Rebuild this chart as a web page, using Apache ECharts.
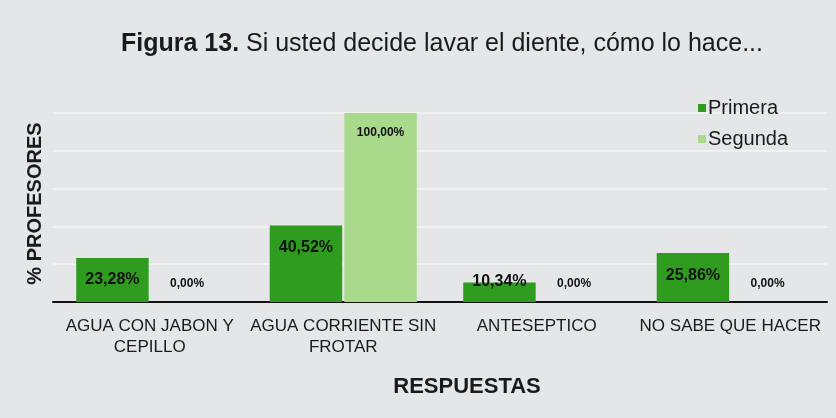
<!DOCTYPE html>
<html>
<head>
<meta charset="utf-8">
<script src="https://cdn.jsdelivr.net/npm/echarts@6/dist/echarts.min.js"></script>
<style>html,body{margin:0;padding:0;background:#e5e6e8;}#c{width:836px;height:418px;}</style>
</head>
<body>
<div id="c"></div>
<script>
var categories = ['AGUA CON JABON Y\nCEPILLO', 'AGUA CORRIENTE SIN\nFROTAR', 'ANTESEPTICO', 'NO SABE QUE HACER'];
var primera = [23.28, 40.52, 10.34, 25.86];
var segunda = [0.00, 100.00, 0.00, 0.00];
var seriesNames = ['Primera', 'Segunda'];
var yTicks = [0, 20, 40, 60, 80, 100];

function fmt(v) { return v.toFixed(2).replace('.', ',') + '%'; }

function buildData(arr) {
  return arr.map(function (v) {
    var lab;
    if (v === 0) lab = { position: 'top', distance: 12 };
    else if (v < 15) lab = { position: 'top', distance: -7 };
    else lab = { position: 'insideTop', distance: 14 };
    return { value: v, label: lab };
  });
}

var chart = echarts.init(document.getElementById('c'));
chart.setOption({
  backgroundColor: '#e5e6e8',
  animation: false,
  title: {
    text: '{b|Figura 13.} Si usted decide lavar el diente, cómo lo hace...',
    left: 437, top: 27, textAlign: 'center',
    textStyle: {
      fontFamily: 'Liberation Sans', fontSize: 25, fontWeight: 'normal', color: '#1a1a1a',
      rich: { b: { fontFamily: 'Liberation Sans', fontSize: 25, fontWeight: 'bold', color: '#1a1a1a' } }
    }
  },
  legend: {
    data: seriesNames,
    orient: 'vertical',
    left: 693, top: 93,
    itemWidth: 8, itemHeight: 8, itemGap: 11,
    icon: 'rect',
    textStyle: { fontFamily: 'Liberation Sans', fontSize: 20, color: '#1a1a1a', padding: [0, 0, 0, -3] }
  },
  grid: { left: 53, right: 9, top: 113, bottom: 116, containLabel: false },
  xAxis: {
    type: 'category',
    data: categories,
    name: 'RESPUESTAS',
    nameLocation: 'middle',
    nameGap: 74,
    nameTextStyle: { fontFamily: 'Liberation Sans', fontSize: 22, fontWeight: 'bold', color: '#1a1a1a', padding: [0, 0, 0, 54] },
    axisLine: { lineStyle: { color: '#111', width: 2 } },
    axisTick: { show: false },
    axisLabel: { fontFamily: 'Liberation Sans', fontSize: 17, color: '#1a1a1a', lineHeight: 21, margin: 14, interval: 0 }
  },
  yAxis: {
    type: 'value',
    min: yTicks[0], max: yTicks[yTicks.length - 1], interval: 20,
    name: '% PROFESORES',
    nameLocation: 'middle',
    nameGap: 8,
    nameTextStyle: { fontFamily: 'Liberation Sans', fontSize: 20, fontWeight: 'bold', color: '#1a1a1a', padding: [0, 0, 0, 8] },
    axisLabel: { show: false },
    axisLine: { show: false },
    axisTick: { show: false },
    splitLine: { lineStyle: { color: '#f6f6f6', width: 1.5 } }
  },
  series: [
    {
      name: seriesNames[0], type: 'bar',
      data: buildData(primera),
      itemStyle: { color: '#2f9c20' },
      barCategoryGap: '24%', barGap: '3%',
      label: { show: true, formatter: function (p) { return fmt(p.value); },
        fontFamily: 'Liberation Sans', fontSize: 16, fontWeight: 'bold', color: '#111' }
    },
    {
      name: seriesNames[1], type: 'bar',
      data: buildData(segunda),
      itemStyle: { color: '#a9da8c' },
      barCategoryGap: '24%', barGap: '3%',
      label: { show: true, formatter: function (p) { return fmt(p.value); },
        fontFamily: 'Liberation Sans', fontSize: 12, fontWeight: 'bold', color: '#111' }
    }
  ]
});
</script>
</body>
</html>
